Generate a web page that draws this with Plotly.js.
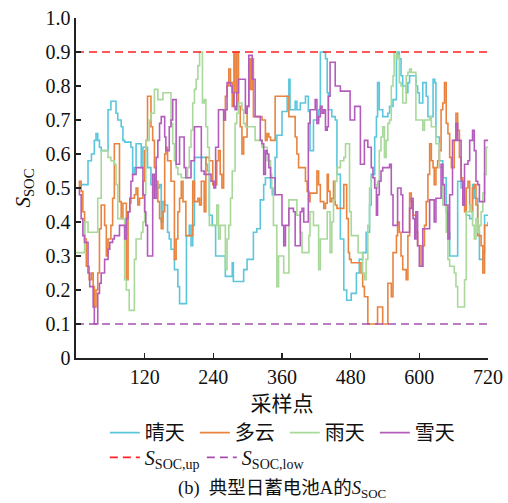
<!DOCTYPE html>
<html>
<head>
<meta charset="utf-8">
<script src="https://cdn.plot.ly/plotly-3.0.1.min.js"></script>
<style>html,body{margin:0;padding:0;background:#fff;}</style>
</head>
<body>
<div id="chart" style="width:508px;height:503px;"></div>
<script>
// ---- data ----
const seriesNames = ['晴天', '多云', '雨天', '雪天'];

const xSunny = [0,9,21,27,32,35,38,41,44,56,61,70,73,79,82,85,96,99,102,105,114,117,122,125,131,140,146,149,152,155,160,163,166,172,178,181,193,198,201,204,207,227,230,233,238,244,261,273,275,293,299,310,316,322,328,331,340,343,348,351,360,369,372,374,383,386,392,401,406,409,415,424,427,436,439,441,447,453,456,462,468,473,481,490,495,501,507,513,516,522,525,527,530,536,545,548,554,560,562,565,568,571,577,580,583,594,597,600,606,612,615,624,627,629,635,641,647,650,653,667,673,679,682,688,693,696,702,705,711,714,720];
const ySunny = [0.50,0.51,0.58,0.60,0.64,0.66,0.64,0.62,0.61,0.73,0.755,0.72,0.70,0.68,0.64,0.635,0.62,0.54,0.56,0.63,0.56,0.62,0.62,0.56,0.51,0.50,0.51,0.40,0.46,0.45,0.37,0.35,0.32,0.26,0.21,0.16,0.36,0.39,0.33,0.39,0.59,0.57,0.55,0.42,0.39,0.30,0.24,0.28,0.225,0.26,0.29,0.37,0.38,0.465,0.51,0.53,0.50,0.48,0.59,0.655,0.725,0.77,0.82,0.73,0.755,0.73,0.75,0.77,0.725,0.61,0.70,0.73,0.90,0.88,0.78,0.73,0.71,0.70,0.54,0.35,0.20,0.17,0.19,0.25,0.29,0.31,0.37,0.45,0.54,0.65,0.71,0.81,0.73,0.71,0.72,0.74,0.76,0.89,0.90,0.88,0.83,0.80,0.78,0.81,0.83,0.80,0.78,0.75,0.81,0.77,0.71,0.82,0.81,0.65,0.58,0.53,0.43,0.37,0.30,0.52,0.50,0.47,0.42,0.41,0.51,0.47,0.37,0.29,0.31,0.42,0.42];

const xCloudy = [0,6,9,12,15,18,23,27,30,32,35,38,41,44,50,53,56,61,64,67,76,79,82,88,91,94,96,102,105,108,111,117,120,122,125,131,134,137,140,143,146,149,152,155,157,160,166,172,175,178,181,184,187,192,204,207,213,216,219,224,227,233,239,246,249,252,255,258,261,264,267,270,273,276,278,281,284,287,290,293,299,302,305,308,310,325,331,334,337,340,348,372,383,386,389,401,404,407,409,421,424,427,433,436,439,441,444,447,450,453,456,468,473,476,478,481,493,498,501,504,510,527,536,545,551,554,560,562,565,568,571,577,580,583,586,589,594,597,603,606,609,612,615,618,621,624,626,629,632,635,638,641,644,647,650,653,656,661,664,667,670,673,676,679,682,685,688,691,693,696,699,702,708,711,714,720];
const yCloudy = [0.50,0.52,0.49,0.43,0.35,0.27,0.23,0.25,0.21,0.15,0.20,0.25,0.38,0.45,0.39,0.30,0.35,0.39,0.47,0.63,0.46,0.41,0.455,0.23,0.43,0.455,0.47,0.48,0.50,0.45,0.47,0.52,0.61,0.64,0.77,0.68,0.64,0.56,0.52,0.46,0.41,0.38,0.43,0.60,0.62,0.58,0.52,0.29,0.35,0.43,0.47,0.52,0.46,0.36,0.52,0.46,0.47,0.45,0.52,0.43,0.59,0.58,0.51,0.58,0.61,0.54,0.50,0.70,0.77,0.80,0.85,0.81,0.74,0.90,0.78,0.90,0.74,0.68,0.60,0.65,0.74,0.88,0.79,0.88,0.71,0.70,0.64,0.66,0.65,0.64,0.77,0.71,0.65,0.60,0.56,0.52,0.49,0.46,0.485,0.55,0.51,0.46,0.44,0.455,0.54,0.49,0.46,0.47,0.52,0.45,0.44,0.51,0.41,0.31,0.29,0.28,0.28,0.25,0.21,0.18,0.10,0.15,0.10,0.22,0.18,0.31,0.36,0.40,0.37,0.30,0.26,0.23,0.36,0.485,0.46,0.42,0.37,0.33,0.27,0.33,0.39,0.46,0.54,0.63,0.58,0.56,0.51,0.56,0.58,0.61,0.73,0.75,0.81,0.69,0.66,0.59,0.56,0.64,0.72,0.67,0.59,0.53,0.45,0.43,0.50,0.52,0.45,0.43,0.50,0.51,0.45,0.36,0.33,0.25,0.39,0.40];

const xRainy = [0,9,15,21,38,44,56,61,67,70,73,85,88,93,102,105,114,117,120,122,128,131,137,143,152,166,169,172,175,178,184,195,198,201,204,207,210,213,216,221,224,227,230,233,246,249,252,261,264,267,270,273,278,281,284,290,293,296,313,325,334,340,342,345,351,354,363,372,386,392,395,407,409,415,424,427,439,444,447,450,453,456,462,468,471,478,481,493,501,504,507,510,513,516,522,525,527,530,533,536,539,542,545,548,551,554,556,560,562,565,568,571,577,580,583,586,594,606,609,618,621,629,635,641,647,650,653,661,664,667,679,682,688,691,693,696,699,702,705,708,711,714,717,720];
const yRainy = [0.31,0.31,0.40,0.37,0.47,0.61,0.59,0.58,0.57,0.51,0.41,0.23,0.20,0.14,0.29,0.35,0.37,0.40,0.48,0.64,0.70,0.72,0.79,0.76,0.78,0.69,0.63,0.58,0.56,0.54,0.53,0.56,0.62,0.67,0.75,0.79,0.82,0.86,0.90,0.75,0.76,0.68,0.62,0.39,0.45,0.35,0.39,0.26,0.35,0.39,0.47,0.55,0.69,0.72,0.75,0.73,0.69,0.68,0.64,0.62,0.58,0.54,0.50,0.39,0.21,0.30,0.25,0.465,0.42,0.37,0.31,0.36,0.43,0.39,0.26,0.35,0.43,0.31,0.40,0.465,0.52,0.56,0.58,0.59,0.63,0.43,0.36,0.31,0.25,0.23,0.29,0.39,0.50,0.53,0.51,0.50,0.52,0.61,0.65,0.68,0.59,0.64,0.69,0.70,0.80,0.83,0.90,0.88,0.89,0.81,0.80,0.75,0.83,0.84,0.85,0.84,0.70,0.67,0.70,0.71,0.68,0.63,0.56,0.45,0.37,0.29,0.27,0.25,0.21,0.15,0.23,0.43,0.45,0.43,0.39,0.35,0.41,0.37,0.39,0.43,0.485,0.54,0.62,0.62];

const xSnowy = [0,6,9,12,15,21,24,30,32,38,41,44,50,56,59,64,67,76,85,88,91,94,96,99,105,117,120,122,125,134,137,140,143,146,149,155,157,163,166,169,175,181,189,192,201,207,219,224,236,241,244,249,258,261,264,270,273,276,278,281,284,296,299,302,308,313,322,325,328,331,334,337,340,348,360,363,366,372,380,383,392,395,398,406,409,418,421,424,427,430,433,436,439,441,444,453,462,479,487,497,504,510,516,519,522,525,527,530,533,536,548,551,554,562,568,571,583,586,589,592,594,597,600,606,618,626,629,638,641,644,650,653,658,664,667,673,676,679,685,688,693,696,699,702,705,714,720];
const ySnowy = [0.50,0.48,0.41,0.36,0.34,0.25,0.21,0.15,0.10,0.19,0.22,0.25,0.29,0.32,0.34,0.35,0.36,0.39,0.35,0.41,0.43,0.47,0.52,0.54,0.56,0.48,0.43,0.39,0.30,0.54,0.47,0.59,0.64,0.69,0.71,0.65,0.61,0.68,0.70,0.76,0.57,0.65,0.56,0.53,0.58,0.68,0.55,0.54,0.52,0.50,0.62,0.73,0.70,0.73,0.81,0.80,0.78,0.74,0.73,0.78,0.82,0.72,0.74,0.89,0.82,0.71,0.64,0.63,0.54,0.61,0.60,0.56,0.53,0.48,0.39,0.33,0.39,0.44,0.43,0.33,0.43,0.44,0.40,0.69,0.73,0.76,0.69,0.71,0.74,0.72,0.73,0.67,0.68,0.77,0.87,0.80,0.785,0.70,0.74,0.57,0.64,0.62,0.56,0.53,0.50,0.42,0.48,0.52,0.55,0.56,0.57,0.48,0.39,0.50,0.48,0.37,0.44,0.47,0.41,0.35,0.43,0.33,0.27,0.38,0.465,0.40,0.47,0.57,0.51,0.45,0.35,0.48,0.64,0.69,0.64,0.52,0.45,0.57,0.58,0.64,0.67,0.61,0.52,0.51,0.46,0.64,0.64];

const socUp = 0.9;
const socLow = 0.1;
const xRange = [0, 720];
const xTickVals = [120, 240, 360, 480, 600, 720];
const xTickText = ['120', '240', '360', '480', '600', '720'];
const yTickVals = [0, 0.1, 0.2, 0.3, 0.4, 0.5, 0.6, 0.7, 0.8, 0.9, 1.0];
const yTickText = ['0', '0.1', '0.2', '0.3', '0.4', '0.5', '0.6', '0.7', '0.8', '0.9', '1.0'];

// ---- styling ----
const FONT = "'Liberation Serif', 'Times New Roman', 'Noto Sans CJK SC', serif";
const colors = ['#5BC6DC', '#E8843F', '#A9D99A', '#B35CBB'];
const xs = [xSunny, xCloudy, xRainy, xSnowy];
const ys = [ySunny, yCloudy, yRainy, ySnowy];

const traces = seriesNames.map((n, i) => ({
  type: 'scatter', mode: 'lines', name: n,
  x: xs[i], y: ys[i],
  line: {shape: 'hv', color: colors[i], width: 1.6},
  legend: 'legend'
}));
traces.push({
  type: 'scatter', mode: 'lines', name: '<i>S</i><sub>SOC,up</sub>',
  x: xRange, y: [socUp, socUp],
  line: {color: '#FF2020', width: 1.6, dash: '8px,5px'},
  legend: 'legend2', legendwidth: 52
});
traces.push({
  type: 'scatter', mode: 'lines', name: '<i>S</i><sub>SOC,low</sub>',
  x: xRange, y: [socLow, socLow],
  line: {color: '#A650AE', width: 1.6, dash: '8px,5px'},
  legend: 'legend2', legendwidth: 75
});

const axisCommon = {
  showline: true, linecolor: '#222', linewidth: 1.6,
  ticks: 'inside', ticklen: 5, tickwidth: 1.4, tickcolor: '#222',
  showgrid: false, zeroline: false,
  tickfont: {family: FONT, size: 20, color: '#111'}
};

const layout = {
  width: 508, height: 503,
  margin: {l: 76, r: 20, t: 18, b: 145},
  paper_bgcolor: '#fff', plot_bgcolor: '#fff',
  font: {family: FONT, color: '#111'},
  xaxis: Object.assign({}, axisCommon, {
    range: xRange, tickvals: xTickVals, ticktext: xTickText,
    title: {text: '采样点', font: {family: FONT, size: 21, color: '#111'}, standoff: 10}
  }),
  yaxis: Object.assign({}, axisCommon, {
    range: [0, 1], tickvals: yTickVals, ticktext: yTickText,
    title: {text: '<i>S</i><sub>SOC</sub>', font: {family: FONT, size: 21, color: '#111'}, standoff: 9}
  }),
  showlegend: true,
  legend: {
    orientation: 'h', x: 0.07, xanchor: 'left', y: -0.162, yanchor: 'top',
    entrywidth: 45, font: {family: FONT, size: 20, color: '#111'},
    bgcolor: 'rgba(0,0,0,0)'
  },
  legend2: {
    orientation: 'h', x: 0.07, xanchor: 'left', y: -0.235, yanchor: 'top',
    font: {family: FONT, size: 20, color: '#111'},
    bgcolor: 'rgba(0,0,0,0)'
  },
  annotations: [{
    text: '(b)  典型日蓄电池A的<i>S</i><sub>SOC</sub>',
    xref: 'paper', yref: 'paper', x: 0.5, y: -0.387, xanchor: 'center', yanchor: 'middle',
    showarrow: false, font: {family: FONT, size: 18.5, color: '#111'}
  }]
};

Plotly.newPlot('chart', traces, layout, {displayModeBar: false, staticPlot: true});
</script>
</body>
</html>
